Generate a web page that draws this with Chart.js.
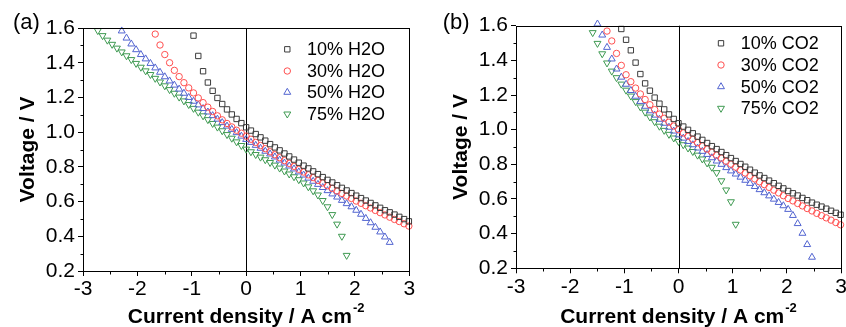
<!DOCTYPE html>
<html><head><meta charset="utf-8">
<script src="https://cdn.jsdelivr.net/npm/chart.js@4.4.1/dist/chart.umd.min.js"></script>
<style>
html,body{margin:0;padding:0;background:#fff;}
#wrap{position:relative;width:846px;height:327px;overflow:hidden;background:#fff;}
canvas{position:absolute;top:0;}
#ca{left:0;}
#cb{left:423px;}
</style></head><body>
<div id="wrap"><canvas id="ca" width="423" height="327"></canvas><canvas id="cb" width="423" height="327"></canvas></div>
<script>
// ---------- Data ----------
const xTickLabels = ['-3','-2','-1','0','1','2','3'];
const yTickLabels = ['0.2','0.4','0.6','0.8','1.0','1.2','1.4','1.6'];

// Panel (a): H2O
const h2oLabels = ['10% H2O','30% H2O','50% H2O','75% H2O'];
const h10x = [-0.968,-0.880,-0.792,-0.704,-0.616,-0.528,-0.440,-0.352,-0.264,-0.176,-0.088,0,0.088,0.176,0.264,0.352,0.440,0.528,0.616,0.704,0.792,0.880,0.968,1.056,1.144,1.232,1.320,1.408,1.496,1.584,1.672,1.760,1.848,1.936,2.024,2.112,2.200,2.288,2.376,2.464,2.552,2.640,2.728,2.816,2.904,2.992];
const h10y = [1.556,1.439,1.351,1.286,1.238,1.197,1.162,1.131,1.102,1.076,1.052,1.028,1.009,0.989,0.970,0.951,0.931,0.912,0.895,0.877,0.860,0.842,0.824,0.807,0.791,0.774,0.758,0.741,0.725,0.710,0.694,0.679,0.664,0.649,0.634,0.620,0.606,0.592,0.578,0.564,0.550,0.538,0.525,0.512,0.499,0.486];
const h30x = [-1.672,-1.584,-1.496,-1.408,-1.320,-1.232,-1.144,-1.056,-0.968,-0.880,-0.792,-0.704,-0.616,-0.528,-0.440,-0.352,-0.264,-0.176,-0.088,0,0.088,0.176,0.264,0.352,0.440,0.528,0.616,0.704,0.792,0.880,0.968,1.056,1.144,1.232,1.320,1.408,1.496,1.584,1.672,1.760,1.848,1.936,2.024,2.112,2.200,2.288,2.376,2.464,2.552,2.640,2.728,2.816,2.904,2.992];
const h30y = [1.565,1.502,1.447,1.400,1.356,1.320,1.285,1.255,1.226,1.197,1.170,1.144,1.119,1.094,1.071,1.050,1.030,1.011,0.994,0.977,0.959,0.941,0.923,0.905,0.887,0.870,0.853,0.836,0.820,0.803,0.786,0.770,0.754,0.738,0.722,0.707,0.691,0.676,0.661,0.647,0.632,0.618,0.603,0.590,0.576,0.563,0.549,0.536,0.523,0.510,0.497,0.485,0.472,0.459];
const h50x = [-2.288,-2.200,-2.112,-2.024,-1.936,-1.848,-1.760,-1.672,-1.584,-1.496,-1.408,-1.320,-1.232,-1.144,-1.056,-0.968,-0.880,-0.792,-0.704,-0.616,-0.528,-0.440,-0.352,-0.264,-0.176,-0.088,0,0.088,0.176,0.264,0.352,0.440,0.528,0.616,0.704,0.792,0.880,0.968,1.056,1.144,1.232,1.320,1.408,1.496,1.584,1.672,1.760,1.848,1.936,2.024,2.112,2.200,2.288,2.376,2.464,2.552,2.640];
const h50y = [1.583,1.542,1.508,1.475,1.447,1.422,1.396,1.370,1.345,1.319,1.295,1.271,1.248,1.224,1.200,1.178,1.157,1.136,1.116,1.095,1.075,1.055,1.035,1.016,0.997,0.977,0.958,0.941,0.924,0.907,0.890,0.874,0.857,0.839,0.822,0.805,0.788,0.771,0.753,0.735,0.717,0.699,0.681,0.663,0.644,0.626,0.607,0.588,0.570,0.550,0.527,0.503,0.478,0.452,0.425,0.396,0.365];
const h75x = [-2.728,-2.640,-2.552,-2.464,-2.376,-2.288,-2.200,-2.112,-2.024,-1.936,-1.848,-1.760,-1.672,-1.584,-1.496,-1.408,-1.320,-1.232,-1.144,-1.056,-0.968,-0.880,-0.792,-0.704,-0.616,-0.528,-0.440,-0.352,-0.264,-0.176,-0.088,0,0.088,0.176,0.264,0.352,0.440,0.528,0.616,0.704,0.792,0.880,0.968,1.056,1.144,1.232,1.320,1.408,1.496,1.584,1.672,1.760,1.848];
const h75y = [1.585,1.556,1.530,1.506,1.484,1.462,1.440,1.418,1.396,1.374,1.353,1.332,1.310,1.289,1.267,1.245,1.224,1.202,1.180,1.159,1.137,1.115,1.094,1.072,1.050,1.029,1.008,0.986,0.965,0.944,0.923,0.902,0.887,0.871,0.856,0.841,0.825,0.810,0.793,0.776,0.759,0.743,0.726,0.707,0.685,0.662,0.638,0.606,0.570,0.525,0.470,0.400,0.290];

// Panel (b): CO2
const co2Labels = ['10% CO2','30% CO2','50% CO2','75% CO2'];
const c10x = [-1.056,-0.968,-0.880,-0.792,-0.704,-0.616,-0.528,-0.440,-0.352,-0.264,-0.176,-0.088,0,0.088,0.176,0.264,0.352,0.440,0.528,0.616,0.704,0.792,0.880,0.968,1.056,1.144,1.232,1.320,1.408,1.496,1.584,1.672,1.760,1.848,1.936,2.024,2.112,2.200,2.288,2.376,2.464,2.552,2.640,2.728,2.816,2.904,2.992];
const c10y = [1.581,1.519,1.458,1.387,1.321,1.267,1.225,1.185,1.150,1.117,1.088,1.062,1.037,1.018,0.999,0.979,0.960,0.941,0.923,0.905,0.888,0.871,0.853,0.836,0.819,0.802,0.786,0.769,0.752,0.736,0.721,0.706,0.691,0.676,0.661,0.646,0.633,0.620,0.606,0.593,0.579,0.567,0.556,0.544,0.532,0.520,0.509];
const c30x = [-1.320,-1.232,-1.144,-1.056,-0.968,-0.880,-0.792,-0.704,-0.616,-0.528,-0.440,-0.352,-0.264,-0.176,-0.088,0,0.088,0.176,0.264,0.352,0.440,0.528,0.616,0.704,0.792,0.880,0.968,1.056,1.144,1.232,1.320,1.408,1.496,1.584,1.672,1.760,1.848,1.936,2.024,2.112,2.200,2.288,2.376,2.464,2.552,2.640,2.728,2.816,2.904,2.992];
const c30y = [1.569,1.512,1.440,1.371,1.317,1.277,1.240,1.206,1.174,1.144,1.116,1.090,1.066,1.043,1.021,1.000,0.981,0.962,0.944,0.925,0.906,0.888,0.870,0.853,0.836,0.818,0.801,0.784,0.767,0.750,0.733,0.716,0.699,0.683,0.667,0.651,0.635,0.619,0.603,0.589,0.574,0.560,0.545,0.531,0.517,0.504,0.491,0.478,0.464,0.451];
const c50x = [-1.496,-1.408,-1.320,-1.232,-1.144,-1.056,-0.968,-0.880,-0.792,-0.704,-0.616,-0.528,-0.440,-0.352,-0.264,-0.176,-0.088,0,0.088,0.176,0.264,0.352,0.440,0.528,0.616,0.704,0.792,0.880,0.968,1.056,1.144,1.232,1.320,1.408,1.496,1.584,1.672,1.760,1.848,1.936,2.024,2.112,2.200,2.288,2.376,2.464];
const c50y = [1.610,1.546,1.475,1.408,1.350,1.303,1.262,1.226,1.193,1.163,1.135,1.109,1.084,1.060,1.037,1.014,0.992,0.970,0.951,0.932,0.913,0.894,0.875,0.857,0.838,0.819,0.800,0.781,0.762,0.744,0.726,0.708,0.690,0.672,0.654,0.636,0.618,0.599,0.580,0.561,0.540,0.505,0.458,0.402,0.337,0.264];
const c75x = [-1.584,-1.496,-1.408,-1.320,-1.232,-1.144,-1.056,-0.968,-0.880,-0.792,-0.704,-0.616,-0.528,-0.440,-0.352,-0.264,-0.176,-0.088,0,0.088,0.176,0.264,0.352,0.440,0.528,0.616,0.704,0.792,0.880,0.968,1.056];
const c75y = [1.560,1.498,1.438,1.385,1.338,1.300,1.263,1.228,1.194,1.162,1.131,1.101,1.073,1.046,1.020,0.996,0.973,0.952,0.932,0.913,0.894,0.874,0.853,0.831,0.808,0.783,0.752,0.705,0.652,0.584,0.454];

// ---------- Styling ----------
const FONT = "'Liberation Sans', Arial, Helvetica, sans-serif";
Chart.defaults.font.family = FONT;
const markerStyles = [
  {style:'rect', rot:0, r:3.8, color:'#3c3c3c'},
  {style:'circle', rot:0, r:3.2, color:'#ff4f4f'},
  {style:'triangle', rot:0, r:4.0, color:'#5264d0'},
  {style:'triangle', rot:180, r:4.0, color:'#3f9a52'}
];

function pts(xs, ys){ return xs.map((x,i)=>({x:x, y:ys[i]})); }

const decor = {
  id:'decor',
  beforeDatasetsDraw(chart){
    const c = chart.ctx, a = chart.chartArea, xs = chart.scales.x;
    const x0 = Math.round(xs.getPixelForValue(0)) + 0.5;
    c.save(); c.strokeStyle = '#000'; c.lineWidth = 1;
    c.beginPath(); c.moveTo(x0, a.top); c.lineTo(x0, a.bottom); c.stroke();
    c.restore();
  },
  afterDraw(chart){
    const c = chart.ctx, a = chart.chartArea, cfg = chart.options.plugins.decor;
    const xs = chart.scales.x, ys = chart.scales.y;
    const L = Math.round(a.left)+0.5, R = Math.round(a.right)+0.5, T = Math.round(a.top)+0.5, B = Math.round(a.bottom)+0.5;
    c.save();
    c.strokeStyle = '#000'; c.lineWidth = 1;
    c.strokeRect(L, T, R-L, B-T);
    // minor ticks
    c.beginPath();
    for (let v = -2.5; v < 3; v += 1) { const px = Math.round(xs.getPixelForValue(v))+0.5; c.moveTo(px, B); c.lineTo(px, B+3); }
    for (let v = 0.3; v < 1.6; v += 0.2) { const py = Math.round(ys.getPixelForValue(v))+0.5; c.moveTo(L, py); c.lineTo(L-3, py); }
    c.stroke();
    c.fillStyle = '#000';
    // panel label
    c.font = '22px ' + FONT; c.textAlign = 'left'; c.textBaseline = 'alphabetic';
    c.fillText(cfg.panel, cfg.panelX, 29);
    // y title
    c.save();
    c.translate(cfg.yTitleX, (a.top + a.bottom)/2);
    c.rotate(-Math.PI/2);
    c.font = 'bold 21px ' + FONT; c.textAlign = 'center'; c.textBaseline = 'alphabetic';
    c.fillText('Voltage / V', 0, 0);
    c.restore();
    // x title with superscript
    const main = 'Current density / A cm', sup = '-2';
    c.font = 'bold 21px ' + FONT; const w1 = c.measureText(main).width;
    c.font = 'bold 13px ' + FONT; const w2 = c.measureText(sup).width;
    const sx = (a.left + a.right)/2 - (w1 + w2 + 1)/2;
    c.textAlign = 'left';
    c.font = 'bold 21px ' + FONT; c.fillText(main, sx, 323);
    c.font = 'bold 13px ' + FONT; c.fillText(sup, sx + w1 + 1, 312);
    // legend
    chart.data.datasets.forEach((ds, i) => {
      const y = cfg.legRows[i];
      c.save();
      c.strokeStyle = ds.borderColor; c.fillStyle = 'rgba(0,0,0,0)'; c.lineWidth = 1;
      Chart.helpers.drawPoint(c, {pointStyle: ds.pointStyle, rotation: ds.pointRotation, radius: ds.pointRadius, borderWidth: 1}, cfg.legMarkX, y);
      c.restore();
      c.fillStyle = '#000'; c.font = '18px ' + FONT; c.textAlign = 'left'; c.textBaseline = 'middle';
      c.fillText(ds.label, cfg.legTextX, y + 1);
    });
    c.restore();
  }
};

function panel(id, labels, xsArr, ysArr, cfg){
  const datasets = labels.map((lab, i) => ({
    label: lab,
    data: pts(xsArr[i], ysArr[i]),
    pointStyle: markerStyles[i].style,
    pointRotation: markerStyles[i].rot,
    pointRadius: markerStyles[i].r,
    pointHoverRadius: markerStyles[i].r,
    borderColor: markerStyles[i].color,
    pointBorderColor: markerStyles[i].color,
    backgroundColor: 'rgba(0,0,0,0)',
    pointBackgroundColor: 'rgba(0,0,0,0)',
    pointBorderWidth: 1,
    showLine: false,
    clip: 6
  }));
  const tickGrid = {display:true, drawOnChartArea:false, drawTicks:true, tickLength:5, tickColor:'#000', tickWidth:1, color:'#000'};
  return new Chart(document.getElementById(id), {
    type:'scatter',
    data:{datasets},
    options:{
      responsive:false, animation:false, devicePixelRatio:1,
      events:[],
      layout:{padding:{left:0, top:cfg.top, right:cfg.rightPad, bottom:0}},
      plugins:{legend:{display:false}, tooltip:{enabled:false}, decor:cfg},
      scales:{
        x:{type:'linear', min:-3, max:3,
           afterBuildTicks(s){ s.ticks = xTickLabels.map(t => ({value: parseFloat(t)})); },
           ticks:{color:'#000', font:{size:21}, padding:1, maxRotation:0, autoSkip:false,
                  callback:(v, i) => xTickLabels[i]},
           grid:tickGrid, border:{display:false},
           afterFit(s){ s.height = cfg.xH; s.paddingLeft = 0; s.paddingRight = 0; }},
        y:{type:'linear', min:0.2, max:1.6,
           afterBuildTicks(s){ s.ticks = yTickLabels.map(t => ({value: parseFloat(t)})); },
           ticks:{color:'#000', font:{size:21}, padding:3, autoSkip:false,
                  callback:(v, i) => yTickLabels[i]},
           grid:tickGrid, border:{display:false},
           afterFit(s){ s.width = cfg.yW; s.paddingTop = 0; s.paddingBottom = 0; }}
      }
    },
    plugins:[decor]
  });
}

panel('ca', h2oLabels, [h10x,h30x,h50x,h75x], [h10y,h30y,h50y,h75y], {
  top:28, rightPad:13.7, xH:56, yW:83,
  panel:'(a)', panelX:13, yTitleX:33.5,
  legRows:[49.3,71,92.3,114], legMarkX:287.3, legTextX:307
});
panel('cb', co2Labels, [c10x,c30x,c50x,c75x], [c10y,c30y,c50y,c75y], {
  top:25.7, rightPad:4.5, xH:58.7, yW:93,
  panel:'(b)', panelX:19.7, yTitleX:43.7,
  legRows:[43.3,65,86.7,108.3], legMarkX:298, legTextX:317.7
});
</script>
</body></html>
